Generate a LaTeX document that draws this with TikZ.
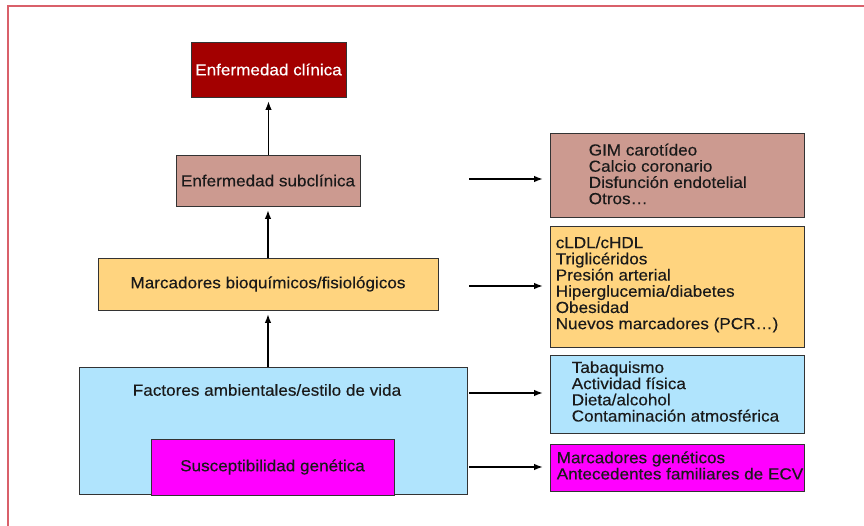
\documentclass[tikz,border=0pt]{standalone}
\usepackage{fontspec}
\setmainfont{Liberation Sans}[FakeStretch=1.07,FakeBold=0.3]
\usetikzlibrary{arrows.meta,calc}
\definecolor{frame}{HTML}{D9606A}
\definecolor{clin}{HTML}{A30000}
\definecolor{subc}{HTML}{CC9A90}
\definecolor{marc}{HTML}{FFD47F}
\definecolor{amb}{HTML}{B0E4FD}
\definecolor{gen}{HTML}{FF00FF}
\definecolor{edge}{HTML}{333333}
\definecolor{txt}{HTML}{1A1A1A}
\tikzset{
  box/.style={draw=edge, line width=0.9pt, inner sep=0pt, text=txt,
    font=\fontsize{16}{16.2}\selectfont},
  lst/.style={anchor=west, inner sep=0pt, align=left, text=txt,
    font=\fontsize{16}{16.2}\selectfont},
  arr/.style={draw=black, line width=1.1pt, -{Latex[length=8.5pt,width=6.5pt]}},
}
\begin{document}
\begin{tikzpicture}[x=1pt,y=-1pt]
\useasboundingbox[fill=white] (0,0) rectangle (864,526);
\draw[frame, line width=1.3pt] (8,526) -- (8,6) -- (864,6);
% left column
\node[box, fill=clin, text=white, minimum width=155pt, minimum height=55pt] (clin) at (268.5,69.5) {Enfermedad clínica};
\node[box, fill=subc, minimum width=184pt, minimum height=51pt] (sub) at (268,180.5) {Enfermedad subclínica};
\node[box, fill=marc, minimum width=340pt, minimum height=52pt] (marc) at (268,284) {Marcadores bioquímicos/fisiológicos};
\node[box, fill=amb, minimum width=388pt, minimum height=127pt] (fact) at (273,430.5) {};
\node[lst, anchor=center] (ftext) at (267,390) {Factores ambientales/estilo de vida};
\node[box, fill=gen, minimum width=243pt, minimum height=56pt] (gen) at (272.5,467) {Susceptibilidad genética};
% right column
\node[box, fill=subc, minimum width=254pt, minimum height=84pt] (lsub) at (677,175) {};
\node[lst] (tsub) at ($(lsub.west)+(39,-1)$) {GIM carotídeo\\Calcio coronario\\Disfunción endotelial\\Otros\dots};
\node[box, fill=marc, minimum width=254pt, minimum height=121pt] (lmarc) at (677,286.5) {};
\node[lst] (tmarc) at ($(lmarc.west)+(6,-2)$) {cLDL/cHDL\\Triglicéridos\\Presión arterial\\Hiperglucemia/diabetes\\Obesidad\\Nuevos marcadores (PCR\dots)};
\node[box, fill=amb, minimum width=254pt, minimum height=78pt] (lfact) at (677,394) {};
\node[lst] (tfact) at ($(lfact.west)+(22,-2.5)$) {Tabaquismo\\Actividad física\\Dieta/alcohol\\Contaminación atmosférica};
\node[box, fill=gen, minimum width=254pt, minimum height=47pt] (lgen) at (677,467.5) {};
\node[lst] (tgen) at ($(lgen.west)+(7,-2)$) {Marcadores genéticos\\Antecedentes familiares de ECV};
% vertical arrows
\draw[arr, shorten >=4pt] (sub.north -| clin.south) -- (clin.south);
\draw[arr, shorten >=4pt] (marc.north -| sub.south) -- (sub.south);
\draw[arr, shorten >=4pt] (fact.north -| marc.south) -- (marc.south);
% horizontal arrows
\coordinate (s1) at (469,179);
\coordinate (s2) at (469,286);
\coordinate (s3) at (469,393);
\coordinate (s4) at (469,467);
\draw[arr, shorten >=7pt] (s1) -- (s1 -| lsub.west);
\draw[arr, shorten >=7pt] (s2) -- (s2 -| lmarc.west);
\draw[arr, shorten >=7pt] (s3) -- (s3 -| lfact.west);
\draw[arr, shorten >=7pt] (s4) -- (s4 -| lgen.west);
\end{tikzpicture}
\end{document}
